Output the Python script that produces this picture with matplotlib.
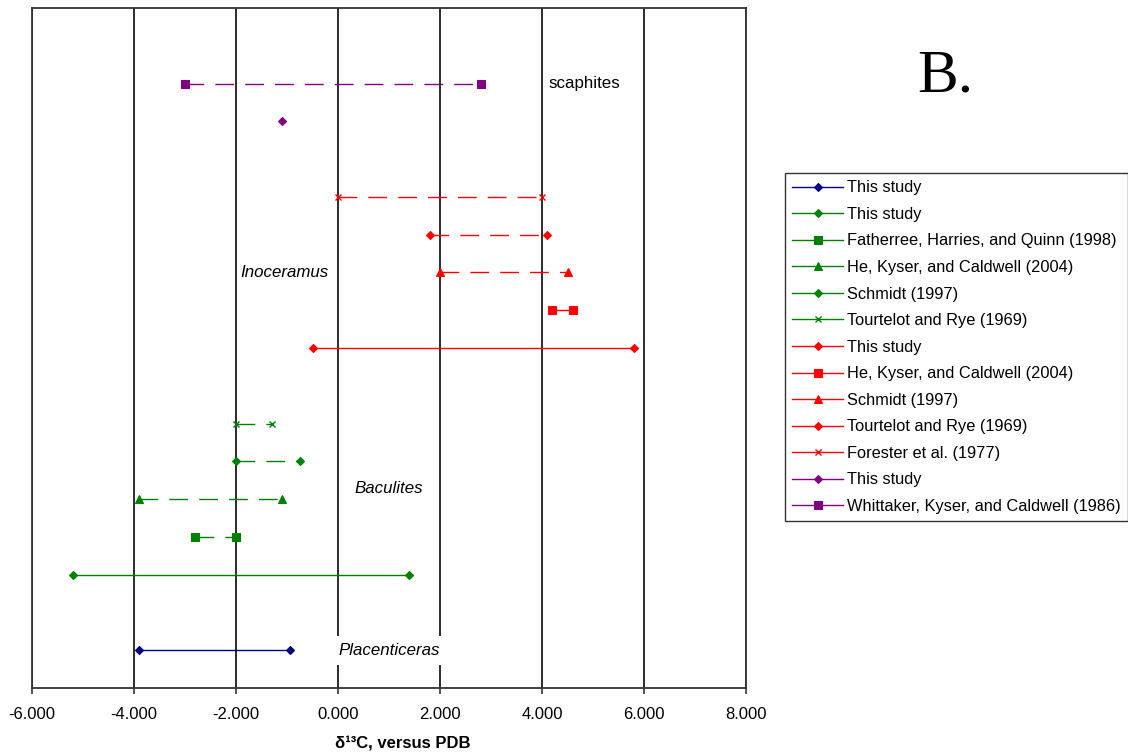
import matplotlib
matplotlib.use("Agg")
import matplotlib.pyplot as plt
from matplotlib.lines import Line2D

plt.rcParams["font.family"] = ["Liberation Sans", "DejaVu Sans"]

# Ranges of delta-13C for each taxon / source
labels = [
    "This study",
    "This study",
    "Fatherree, Harries, and Quinn (1998)",
    "He, Kyser, and Caldwell (2004)",
    "Schmidt (1997)",
    "Tourtelot and Rye (1969)",
    "This study",
    "He, Kyser, and Caldwell (2004)",
    "Schmidt (1997)",
    "Tourtelot and Rye (1969)",
    "Forester et al. (1977)",
    "This study",
    "Whittaker, Kyser, and Caldwell (1986)",
]
rows = [1, 3, 4, 5, 6, 7, 9, 10, 11, 12, 13, 15, 16]
low = [-3.9, -5.2, -2.8, -3.9, -2.0, -2.0, -0.5, 4.2, 2.0, 1.8, 0.0, -1.1, -3.0]
high = [-0.95, 1.4, -2.0, -1.1, -0.75, -1.3, 5.8, 4.6, 4.5, 4.1, 4.0, None, 2.8]

x_ticks = [-6, -4, -2, 0, 2, 4, 6, 8]
x_ticklabels = ["-6.000", "-4.000", "-2.000", "0.000", "2.000", "4.000", "6.000", "8.000"]

group_names = ["scaphites", "Inoceramus", "Baculites", "Placenticeras"]
group_x = [4.12, -1.92, 0.33, 0.0]
group_y = [16, 11, 5.27, 1]

# styling
NAVY, GREEN, RED, PURPLE = "#000080", "#008000", "#FF0000", "#800080"
colors = [NAVY, GREEN, GREEN, GREEN, GREEN, GREEN, RED, RED, RED, RED, RED, PURPLE, PURPLE]
markers = ["D", "D", "s", "^", "D", "x", "D", "s", "^", "D", "x", "D", "s"]
dashed = [False, False, True, True, True, True, False, False, True, True, True, False, True]
msizes = {"D": 4.1, "s": 5.2, "^": 5.8, "x": 4.0}

fig = plt.figure(figsize=(11.28, 7.52), dpi=100)
ax = fig.add_axes([32 / 1128, 64 / 752, 714 / 1128, 680 / 752])

for i in range(len(labels)):
    xs = [low[i]] if high[i] is None else [low[i], high[i]]
    ys = [rows[i]] * len(xs)
    ls = (0, (13.5, 8.0)) if dashed[i] else "-"
    ax.plot(xs, ys, color=colors[i], lw=1.0, ls=ls, marker=markers[i],
            ms=msizes[markers[i]], mew=1.0 if markers[i] == "x" else 0.8,
            mfc=colors[i], mec=colors[i], zorder=3)

ax.set_xlim(-6, 8)
ax.set_ylim(0, 18)
ax.set_xticks(x_ticks)
ax.set_xticklabels(x_ticklabels)
ax.set_yticks([])
for xv in x_ticks:
    ax.axvline(xv, color="#1a1a1a", lw=1.3, zorder=1)

for s in ax.spines.values():
    s.set_color("#333333")
    s.set_linewidth(1.3)

ax.tick_params(axis="x", direction="out", length=4.5, width=1.2, color="#333333",
               labelsize=12, pad=9)

ax.set_xlabel("δ¹³C, versus PDB", fontsize=12, fontweight="bold", labelpad=10)
ax.xaxis.label.set_x((403 - 32) / 714)

for name, gx, gy in zip(group_names, group_x, group_y):
    style = "normal" if name == "scaphites" else "italic"
    kw = {}
    if name == "Placenticeras":
        kw["bbox"] = dict(facecolor="white", edgecolor="none", pad=5)
    ax.text(gx, gy, name, fontsize=12.2, style=style, ha="left", va="center",
            zorder=4, **kw)

fig.text(945 / 1128, 1 - 92 / 752, "B.", family="Liberation Serif", fontsize=44,
         ha="center", va="baseline")

handles = [
    Line2D([], [], color=c, lw=1.0, marker=m, ms=msizes[m], mfc=c, mec=c,
           mew=1.0 if m == "x" else 0.8)
    for c, m in zip(colors, markers)
]
leg = fig.legend(handles, labels, loc="upper left", bbox_to_anchor=(785 / 1128, 1 - 173 / 752),
                 frameon=True, fancybox=False, edgecolor="black", fontsize=11.8,
                 handlelength=3.1, handletextpad=0.25, labelspacing=0.705,
                 borderpad=0.45, borderaxespad=0, numpoints=1)
leg.get_frame().set_linewidth(1.0)

fig.savefig("out.png", dpi=100)
